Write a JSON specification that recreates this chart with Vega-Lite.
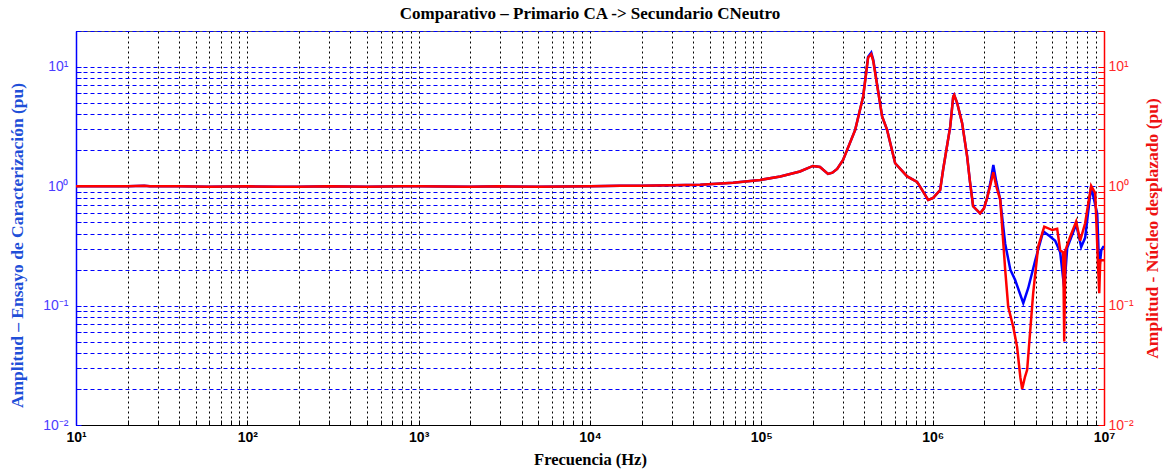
{
  "$schema": "https://vega.github.io/schema/vega-lite/v6.json",
  "width": 1028,
  "height": 394,
  "autosize": {"type": "none"},
  "padding": {"left": 76, "top": 31, "right": 63, "bottom": 48},
  "background": "white",
  "title": {"text": "Comparativo – Primario CA -> Secundario CNeutro", "font": "Liberation Serif", "fontSize": 17, "fontWeight": "bold", "color": "black", "anchor": "middle", "offset": 1},
  "config": {"view": {"stroke": "#555555", "strokeWidth": 1}},
  "datasets": {
    "blue": [
      {"f": 10, "a": 1.0}, {"f": 15, "a": 1.0}, {"f": 20, "a": 1.0}, {"f": 25, "a": 1.01}, {"f": 27, "a": 1.0},
      {"f": 40, "a": 1.0}, {"f": 60, "a": 0.99}, {"f": 100, "a": 1.0}, {"f": 150, "a": 0.99}, {"f": 200, "a": 0.99},
      {"f": 300, "a": 1.0}, {"f": 500, "a": 0.99}, {"f": 800, "a": 1.0}, {"f": 1000, "a": 1.0}, {"f": 2000, "a": 0.99},
      {"f": 3000, "a": 1.0}, {"f": 5000, "a": 0.99}, {"f": 10000, "a": 1.0}, {"f": 15000, "a": 1.01}, {"f": 20000, "a": 1.01},
      {"f": 30000, "a": 1.02}, {"f": 44000, "a": 1.03}, {"f": 68400, "a": 1.07}, {"f": 98400, "a": 1.13}, {"f": 129000, "a": 1.21},
      {"f": 168000, "a": 1.33}, {"f": 200000, "a": 1.48}, {"f": 220000, "a": 1.45}, {"f": 245000, "a": 1.27}, {"f": 260000, "a": 1.3},
      {"f": 277000, "a": 1.4}, {"f": 300000, "a": 1.66}, {"f": 353000, "a": 2.97}, {"f": 393000, "a": 5.65}, {"f": 420000, "a": 12.2},
      {"f": 438000, "a": 13.2}, {"f": 450000, "a": 11.5}, {"f": 507000, "a": 3.84}, {"f": 542000, "a": 2.97}, {"f": 604000, "a": 1.56},
      {"f": 710000, "a": 1.21}, {"f": 811000, "a": 1.09}, {"f": 860000, "a": 0.95}, {"f": 941000, "a": 0.77}, {"f": 1007000, "a": 0.8},
      {"f": 1106000, "a": 0.93}, {"f": 1150000, "a": 1.37}, {"f": 1266000, "a": 3.16}, {"f": 1318000, "a": 5.65}, {"f": 1335000, "a": 5.83},
      {"f": 1390000, "a": 4.98}, {"f": 1486000, "a": 3.38}, {"f": 1589000, "a": 1.78}, {"f": 1650000, "a": 1.1}, {"f": 1722000, "a": 0.68},
      {"f": 1892000, "a": 0.594}, {"f": 1990000, "a": 0.65}, {"f": 2080000, "a": 0.8}, {"f": 2180000, "a": 1.1}, {"f": 2260000, "a": 1.51},
      {"f": 2350000, "a": 1.1}, {"f": 2480000, "a": 0.77}, {"f": 2650000, "a": 0.33}, {"f": 2840000, "a": 0.2}, {"f": 3030000, "a": 0.164},
      {"f": 3380000, "a": 0.105}, {"f": 3610000, "a": 0.14}, {"f": 3970000, "a": 0.24}, {"f": 4420000, "a": 0.42}, {"f": 4850000, "a": 0.38},
      {"f": 5190000, "a": 0.35}, {"f": 5550000, "a": 0.28}, {"f": 5860000, "a": 0.14}, {"f": 6100000, "a": 0.305}, {"f": 6880000, "a": 0.48},
      {"f": 7360000, "a": 0.31}, {"f": 7760000, "a": 0.37}, {"f": 8410000, "a": 0.99}, {"f": 9130000, "a": 0.59}, {"f": 9380000, "a": 0.2},
      {"f": 9640000, "a": 0.29}, {"f": 9890000, "a": 0.31}, {"f": 10000000, "a": 0.31}
    ],
    "red": [
      {"f": 10, "a": 1.0}, {"f": 15, "a": 1.0}, {"f": 20, "a": 1.0}, {"f": 25, "a": 1.01}, {"f": 27, "a": 1.0},
      {"f": 40, "a": 1.0}, {"f": 60, "a": 0.99}, {"f": 100, "a": 1.0}, {"f": 150, "a": 0.99}, {"f": 200, "a": 0.99},
      {"f": 300, "a": 1.0}, {"f": 500, "a": 0.99}, {"f": 800, "a": 1.0}, {"f": 1000, "a": 1.0}, {"f": 2000, "a": 0.99},
      {"f": 3000, "a": 1.0}, {"f": 5000, "a": 0.99}, {"f": 10000, "a": 1.0}, {"f": 15000, "a": 1.01}, {"f": 20000, "a": 1.01},
      {"f": 30000, "a": 1.02}, {"f": 44000, "a": 1.03}, {"f": 68400, "a": 1.07}, {"f": 98400, "a": 1.13}, {"f": 129000, "a": 1.21},
      {"f": 168000, "a": 1.33}, {"f": 200000, "a": 1.48}, {"f": 220000, "a": 1.45}, {"f": 245000, "a": 1.27}, {"f": 260000, "a": 1.3},
      {"f": 277000, "a": 1.4}, {"f": 300000, "a": 1.66}, {"f": 353000, "a": 2.97}, {"f": 393000, "a": 5.65}, {"f": 420000, "a": 12.0},
      {"f": 438000, "a": 12.8}, {"f": 450000, "a": 11.2}, {"f": 507000, "a": 3.84}, {"f": 542000, "a": 2.97}, {"f": 604000, "a": 1.56},
      {"f": 710000, "a": 1.21}, {"f": 811000, "a": 1.09}, {"f": 860000, "a": 0.95}, {"f": 941000, "a": 0.77}, {"f": 1007000, "a": 0.8},
      {"f": 1106000, "a": 0.93}, {"f": 1150000, "a": 1.37}, {"f": 1266000, "a": 3.16}, {"f": 1318000, "a": 5.65}, {"f": 1335000, "a": 5.83},
      {"f": 1390000, "a": 4.98}, {"f": 1486000, "a": 3.38}, {"f": 1589000, "a": 1.78}, {"f": 1650000, "a": 1.1}, {"f": 1722000, "a": 0.68},
      {"f": 1892000, "a": 0.594}, {"f": 1990000, "a": 0.65}, {"f": 2080000, "a": 0.8}, {"f": 2180000, "a": 1.05}, {"f": 2260000, "a": 1.31},
      {"f": 2350000, "a": 1.0}, {"f": 2480000, "a": 0.77}, {"f": 2650000, "a": 0.2}, {"f": 2760000, "a": 0.098}, {"f": 2950000, "a": 0.067},
      {"f": 3110000, "a": 0.045}, {"f": 3250000, "a": 0.025}, {"f": 3330000, "a": 0.02}, {"f": 3450000, "a": 0.025}, {"f": 3560000, "a": 0.029},
      {"f": 3860000, "a": 0.127}, {"f": 4130000, "a": 0.313}, {"f": 4480000, "a": 0.459}, {"f": 4990000, "a": 0.43}, {"f": 5330000, "a": 0.44},
      {"f": 5550000, "a": 0.29}, {"f": 5780000, "a": 0.28}, {"f": 5860000, "a": 0.05}, {"f": 5950000, "a": 0.29}, {"f": 6350000, "a": 0.378},
      {"f": 6880000, "a": 0.506}, {"f": 7260000, "a": 0.35}, {"f": 7760000, "a": 0.49}, {"f": 8410000, "a": 1.01}, {"f": 8890000, "a": 0.875},
      {"f": 9250000, "a": 0.2}, {"f": 9380000, "a": 0.127}, {"f": 9510000, "a": 0.24}, {"f": 9890000, "a": 0.24}, {"f": 10000000, "a": 0.24}
    ]
  },
  "layer": [
    {
      "data": {"name": "blue"},
      "mark": {"type": "line", "color": "#0000ff", "strokeWidth": 2.5, "clip": true},
      "encoding": {
        "x": {
          "field": "f", "type": "quantitative",
          "scale": {"type": "log", "domain": [10, 10000000]},
          "axis": {
            "values": [10,20,30,40,50,60,70,80,90,100,200,300,400,500,600,700,800,900,1000,2000,3000,4000,5000,6000,7000,8000,9000,10000,20000,30000,40000,50000,60000,70000,80000,90000,100000,200000,300000,400000,500000,600000,700000,800000,900000,1000000,2000000,3000000,4000000,5000000,6000000,7000000,8000000,9000000,10000000],
            "labelExpr": "datum.value==10?'10¹':datum.value==100?'10²':datum.value==1000?'10³':datum.value==10000?'10⁴':datum.value==100000?'10⁵':datum.value==1000000?'10⁶':datum.value==10000000?'10⁷':''",
            "labelOverlap": false, "labelFlush": false,
            "grid": true, "gridColor": "black", "gridDash": [2, 3], "gridOpacity": 1, "gridWidth": 1,
            "domainColor": "black", "domainWidth": 1,
            "ticks": true, "tickColor": "black", "tickSize": -5,
            "labelFont": "Liberation Sans", "labelFontWeight": "bold", "labelFontSize": 14, "labelColor": "black", "labelPadding": 10,
            "title": "Frecuencia (Hz)", "titleFont": "Liberation Serif", "titleFontSize": 16.5, "titleFontWeight": "bold", "titleColor": "black", "titlePadding": 7
          }
        },
        "y": {
          "field": "a", "type": "quantitative",
          "scale": {"type": "log", "domain": [0.01, 20]},
          "axis": {
            "orient": "left",
            "values": [0.01,0.02,0.03,0.04,0.05,0.06,0.07,0.08,0.09,0.1,0.2,0.3,0.4,0.5,0.6,0.7,0.8,0.9,1,2,3,4,5,6,7,8,9,10,20],
            "labelExpr": "datum.value==0.01?'10⁻²':datum.value==0.1?'10⁻¹':datum.value==1?'10⁰':datum.value==10?'10¹':''",
            "labelOverlap": false, "labelFlush": false,
            "grid": true, "gridColor": "#0000ff", "gridDash": [4, 3], "gridOpacity": 1, "gridWidth": 1,
            "domainColor": "#0000ff", "domainWidth": 1.5,
            "ticks": true, "tickColor": "#0000ff", "tickSize": -5,
            "labelFont": "Liberation Sans", "labelFontSize": 14, "labelColor": "#4b3cff", "labelPadding": 13,
            "title": "Amplitud – Ensayo de Caracterización (pu)", "titleFont": "Liberation Serif", "titleFontSize": 17.5, "titleFontWeight": "bold", "titleColor": "#1f4fd8", "titlePadding": 16, "titleY": 214
          }
        }
      }
    },
    {
      "data": {"name": "red"},
      "mark": {"type": "line", "color": "#ff0000", "strokeWidth": 2.5, "clip": true},
      "encoding": {
        "x": {"field": "f", "type": "quantitative", "scale": {"type": "log", "domain": [10, 10000000]}},
        "y": {
          "field": "a", "type": "quantitative",
          "scale": {"type": "log", "domain": [0.01, 20]},
          "axis": {
            "orient": "right",
            "values": [0.01,0.02,0.03,0.04,0.05,0.06,0.07,0.08,0.09,0.1,0.2,0.3,0.4,0.5,0.6,0.7,0.8,0.9,1,2,3,4,5,6,7,8,9,10,20],
            "labelExpr": "datum.value==0.01?'10⁻²':datum.value==0.1?'10⁻¹':datum.value==1?'10⁰':datum.value==10?'10¹':''",
            "labelOverlap": false, "labelFlush": false,
            "grid": false,
            "domainColor": "#ff0000", "domainWidth": 1.5,
            "ticks": true, "tickColor": "#ff0000", "tickSize": -6,
            "labelFont": "Liberation Sans", "labelFontSize": 14, "labelColor": "#ff2a2a", "labelPadding": 10,
            "title": "Amplitud - Núcleo  desplazado (pu)", "titleFont": "Liberation Serif", "titleFontSize": 17.5, "titleFontWeight": "bold", "titleColor": "#ee1111", "titlePadding": 10, "titleAngle": 270, "titleBaseline": "top"
          }
        }
      }
    }
  ],
  "resolve": {"scale": {"y": "independent"}}
}
